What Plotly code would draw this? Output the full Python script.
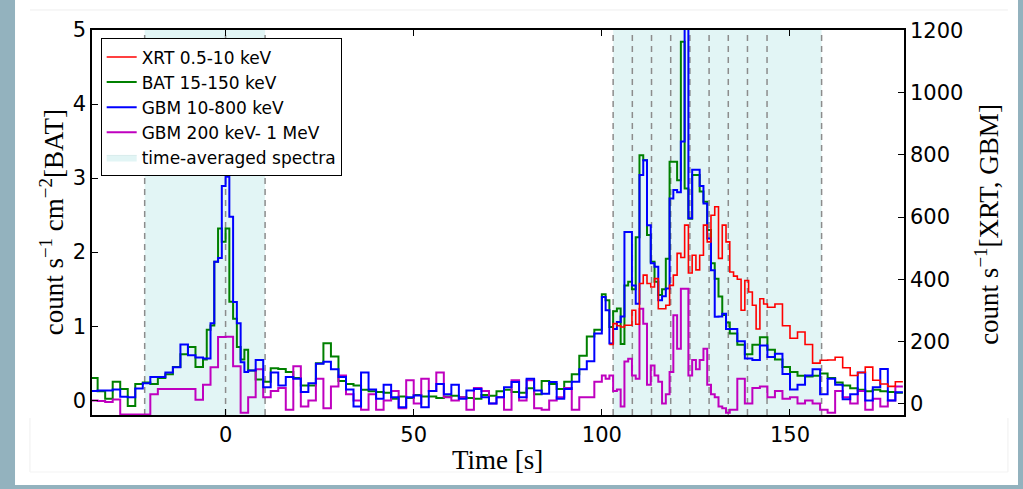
import plotly.graph_objects as go

# ---------------- data ----------------
# time grids (bin starts, seconds)
T_A = list(range(-36, -6, 2))      # 2-s bins
T_B = list(range(-6, 6, 1))        # 1-s bins (first pulse)
T_C = list(range(6, 100, 2))       # 2-s bins (quiet)
T_D = list(range(100, 134, 1))     # 1-s bins (main burst)
T_E = list(range(134, 180, 2))     # 2-s bins (tail)
T_END = 180

# BAT 15-150 keV  [counts s^-1 cm^-2]
BAT_A = [0.30, 0.12, 0.02, 0.25, 0.15, -0.08, 0.22, 0.24, 0.22, 0.30, 0.35, 0.45, 0.62, 0.72, 0.45]
BAT_B = [0.55, 0.95, 1.01, 1.87, 2.32, 2.14, 2.32, 1.33, 1.10, 0.72, 0.55, 0.68]
BAT_C = [0.40, 0.28, 0.25, 0.43, 0.42, 0.38, 0.30, 0.20, 0.20, 0.50,
         0.77, 0.59, 0.26, 0.22, 0.20, 0.14, 0.12, 0.11, 0.10, 0.02,
         0.05, 0.03, 0.07, 0.05, 0.05, 0.03, 0.05, 0.06, 0.04, 0.03,
         0.02, 0.07, 0.06, 0.12, 0.14, 0.11, 0.10, 0.16, 0.08, 0.26,
         0.22, 0.15, 0.25, 0.35, 0.60, 0.86, 0.95]
BAT_D = [1.43, 1.35, 0.99, 1.20, 1.24, 0.76, 1.55, 1.60, 1.50, 2.20,
         3.31, 3.24, 2.23, 1.87, 1.60, 1.42, 1.50, 1.91, 3.22, 3.22,
         2.97, 4.84, 2.86, 2.45, 3.04, 3.04, 2.82, 2.68, 2.30, 1.85,
         1.64, 1.40, 1.15, 1.05]
BAT_E = [0.90, 0.75, 0.62, 0.75, 0.85, 0.68, 0.55, 0.45, 0.38, 0.33, 0.32, 0.33,
         0.36, 0.30, 0.24, 0.20, 0.16, 0.14, 0.12, 0.14, 0.12, 0.11, 0.10]

# GBM 10-800 keV [counts s^-1]
GBM_A = [40, 42, 42, 45, 22, 20, 48, 65, 85, 85, 100, 117, 190, 155, 148]
GBM_B = [145, 145, 258, 456, 468, 700, 730, 601, 327, 258, 133, 101]
GBM_C = [106, 140, 52, 100, 58, 85, 80, 37, 65, 128,
         134, 110, 85, 45, -10, 100, 45, 15, 60, 20,
         -12, 20, 26, -12, 40, 63, 30, 60, 15, 42,
         47, 20, 0, 20, 52, 69, 20, 80, 42, 31,
         69, 15, 47, 70, 110, 136, 225]
GBM_D = [343, 300, 193, 240, 262, 280, 552, 552, 380, 321,
         735, 783, 574, 451, 440, 332, 345, 370, 660, 687,
         680, 843, 1300, 596, 752, 752, 700, 644, 531, 429,
         279, 280, 289, 240]
GBM_E = [240, 200, 145, 140, 187, 150, 160, 95, 45, 60, 90, 110,
         30, 80, 60, 14, 30, 100, 10, 52, 111, 10, 36]

# GBM 200 keV - 1 MeV [counts s^-1]
M_T1 = list(range(-36, 100, 2))
M_T2 = list(range(100, 134, 1))
M_T3 = list(range(134, 180, 2))
MAG_1 = [10, 8, 5, 13, -35, -35, -35, -35, 30, 47,
         47, 47, 47, 47, 12, 60, 117, 214, 215, 120,
         -30,
         20, 110, 20, 40, 50, -20, 120, -10, 10, 80,
         -15, 55, 90, 30, 10, -20, 30, -20, 10, 40,
         -15, 75, 0, 80, 40, 100, 20, 10, 20, -20,
         50, 40, 0, 20, -20, 75, 10, 75, -15, -20,
         10, 20, 50, -20, 20, 20, 70]
MAG_2 = [90, 80, 90, 40, 45, -10, 135, 144, 90, 80,
         305, 257, 60, 122, 90, 70, 0, 30, 101, 284,
         176, 369, 369, 90, 140, 110, 140, 176, 60, 30,
         20, -10, -15, -30]
MAG_3 = [-20, 80, 0, 50, 55, 20, 40, 15, 20, 0, 10, 0,
         -20, -30, 40, 20, 0, 40, -20, 15, -10, 10, 55]

# XRT 0.5-10 keV [counts s^-1]
X_T1 = list(range(102, 144, 1))
X_T2 = list(range(144, 180, 2))
XRT_1 = [190, 257, 250, 246, 252, 252, 300, 255, 386, 413,
         386, 375, 402, 305, 305, 316, 380, 413, 483, 470,
         574, 420, 477, 430, 477, 574, 520, 606, 633, 467,
         574, 520, 423, 410, 400, 300, 396, 359, 316, 240,
         337, 320]
XRT_2 = [310, 320, 250, 210, 230, 190, 130, 139, 140, 149, 115, 90,
         100, 117, 75, 63, 55, 70]

# time-averaged spectra intervals
REGION_1 = (-21.5, 10.5)
REGION_1_MARKS = [-21.5, 0, 10.5]
REGION_2 = (103.0, 158.4)
REGION_2_MARKS = [103.0, 108.1, 113.2, 118.3, 123.4, 128.5, 133.6, 138.7, 143.9, 158.4]

X_TICKS = [0, 50, 100, 150]
YL_TICKS = [0, 1, 2, 3, 4, 5]
YR_TICKS = [0, 200, 400, 600, 800, 1000, 1200]

# ---------------- figure ----------------
def stepped(t, v, end):
    return list(t) + [end], list(v) + [v[-1]]

T_ALL = T_A + T_B + T_C + T_D + T_E
bx, by = stepped(T_ALL, BAT_A + BAT_B + BAT_C + BAT_D + BAT_E, T_END)
gx, gy = stepped(T_ALL, GBM_A + GBM_B + GBM_C + GBM_D + GBM_E, T_END)
mx, my = stepped(M_T1 + M_T2 + M_T3, MAG_1 + MAG_2 + MAG_3, T_END)
xx, xy = stepped(X_T1 + X_T2, XRT_1 + XRT_2, T_END)

SHADE = "#e2f5f5"
fig = go.Figure()

fig.add_trace(go.Scatter(x=bx, y=by, mode="lines", line=dict(color="#008000", width=2, shape="hv"),
                         name="BAT 15-150 keV", legendrank=2, legendgroup="b", yaxis="y"))
fig.add_trace(go.Scatter(x=mx, y=my, mode="lines", line=dict(color="#bf00bf", width=2, shape="hv"),
                         name="GBM 200 keV- 1 MeV", legendrank=4, legendgroup="m", yaxis="y2"))
fig.add_trace(go.Scatter(x=gx, y=gy, mode="lines", line=dict(color="#0000ff", width=2, shape="hv"),
                         name="GBM 10-800 keV", legendrank=3, legendgroup="g", yaxis="y2"))
fig.add_trace(go.Scatter(x=xx, y=xy, mode="lines", line=dict(color="#ff0000", width=1.6, shape="hv"),
                         name="XRT 0.5-10 keV", legendrank=1, legendgroup="x", yaxis="y2"))
fig.add_trace(go.Scatter(x=[None], y=[None], mode="lines", fill="toself", fillcolor=SHADE,
                         line=dict(color="#d8ecec", width=1),
                         name="time-averaged spectra", legendrank=5, legendgroup="s", yaxis="y"))

shapes = []
for (a, b) in (REGION_1, REGION_2):
    shapes.append(dict(type="rect", xref="x", yref="paper", x0=a, x1=b, y0=0, y1=1,
                       fillcolor=SHADE, line=dict(width=0), layer="below"))
for t in REGION_1_MARKS + REGION_2_MARKS:
    shapes.append(dict(type="line", xref="x", yref="paper", x0=t, x1=t, y0=0, y1=1,
                       line=dict(color="#8c8c8c", width=1.5, dash="6px,5px"), layer="below"))

# page frame (screenshot border)
FR = "#93b2be"
shapes += [
    dict(type="rect", xref="paper", yref="paper", x0=-0.1140, x1=-0.0948, y0=-0.20, y1=1.08,
         fillcolor=FR, line=dict(width=0)),
    dict(type="rect", xref="paper", yref="paper", x0=1.1404, x1=1.150, y0=-0.20, y1=1.08,
         fillcolor=FR, line=dict(width=0)),
    dict(type="rect", xref="paper", yref="paper", x0=-0.1140, x1=1.150, y0=-0.20, y1=-0.1818,
         fillcolor=FR, line=dict(width=0)),
    dict(type="line", xref="paper", yref="paper", x0=-0.0764, x1=1.128, y0=1.052, y1=1.052,
         line=dict(color="#efefef", width=1)),
    dict(type="line", xref="paper", yref="paper", x0=-0.0764, x1=-0.0764, y0=-0.008, y1=-0.148,
         line=dict(color="#efefef", width=1)),
    dict(type="line", xref="paper", yref="paper", x0=1.128, x1=1.128, y0=-0.008, y1=-0.148,
         line=dict(color="#efefef", width=1)),
    dict(type="line", xref="paper", yref="paper", x0=-0.0764, x1=1.128, y0=-0.148, y1=-0.148,
         line=dict(color="#f3f3f3", width=1)),
]

TICKFONT = dict(family="DejaVu Sans", size=21, color="black")
TITLEFONT = dict(family="Liberation Serif", size=27, color="black")

fig.update_layout(
    width=1023, height=489,
    margin=dict(l=92, r=119, t=30, b=74),
    paper_bgcolor="white", plot_bgcolor="white",
    showlegend=True,
    legend=dict(x=0.0107, y=0.978, xanchor="left", yanchor="top",
                bgcolor="white", bordercolor="black", borderwidth=1,
                font=dict(family="DejaVu Sans", size=17, color="black"),
                tracegroupgap=0, itemwidth=30),
    xaxis=dict(range=[-35.5, 180.3], tickvals=X_TICKS, ticks="inside", ticklen=6, tickwidth=1,
               tickcolor="black", showline=True, linecolor="black", linewidth=1.5, mirror="ticks",
               showgrid=False, zeroline=False, tickfont=TICKFONT),
    yaxis=dict(range=[-0.2, 5], tickvals=YL_TICKS, ticks="inside", ticklen=6, tickwidth=1,
               tickcolor="black", showline=True, linecolor="black", linewidth=1.5,
               showgrid=False, zeroline=False, tickfont=TICKFONT),
    yaxis2=dict(range=[-37, 1202], tickvals=YR_TICKS, ticks="inside", ticklen=6, tickwidth=1,
                tickcolor="black", showline=True, linecolor="black", linewidth=1.5,
                overlaying="y", side="right", showgrid=False, zeroline=False, tickfont=TICKFONT),
    shapes=shapes,
    annotations=[
        dict(text="Time [s]", xref="paper", yref="paper", x=0.4994, y=-0.117,
             showarrow=False, xanchor="center", yanchor="middle", font=TITLEFONT),
        dict(text="count s<sup>\u22121</sup> cm<sup>\u22122</sup>[BAT]", xref="paper", yref="paper",
             x=-0.049, y=0.501, textangle=-90, showarrow=False,
             xanchor="center", yanchor="middle", font=TITLEFONT),
        dict(text="count s<sup>\u22121</sup>[XRT, GBM]", xref="paper", yref="paper",
             x=1.102, y=0.496, textangle=-90, showarrow=False,
             xanchor="center", yanchor="middle", font=TITLEFONT),
    ],
)

fig.write_html("out.html")
